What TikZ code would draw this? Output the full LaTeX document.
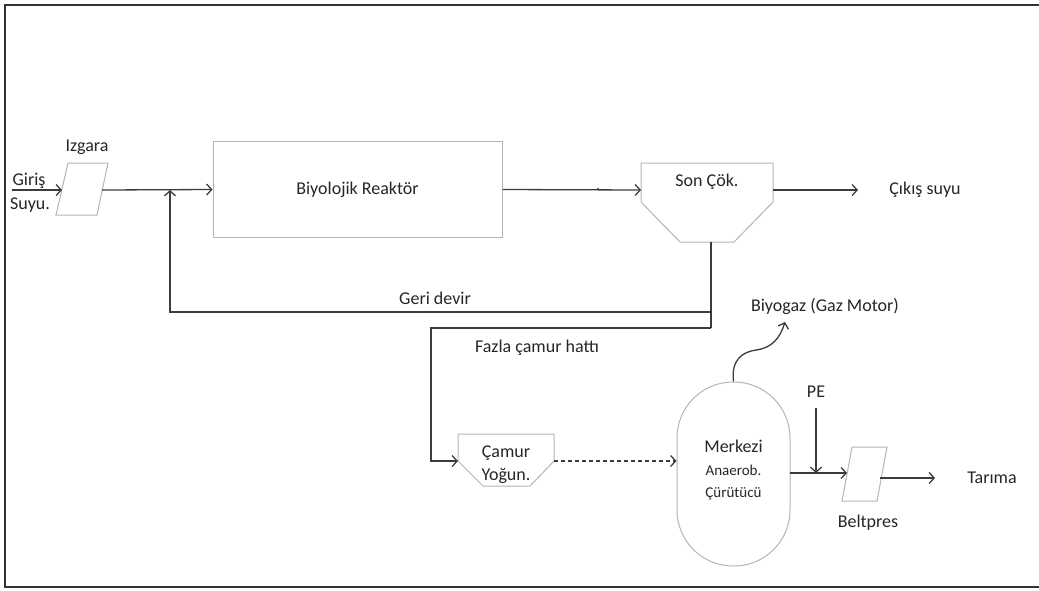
\documentclass[tikz,border=0pt]{standalone}
\usepackage{fontspec}
\setmainfont{Carlito}
\usetikzlibrary{arrows.meta}
\definecolor{flow}{HTML}{3C3C3C}
\definecolor{unit}{HTML}{B4B4B4}
\definecolor{ink}{HTML}{262626}
\begin{document}
\begin{tikzpicture}[x=1pt,y=-1pt,
  >={Straight Barb[length=5pt,width=11pt]},
  flowline/.style={draw=flow,line width=1.3pt},
  unitline/.style={draw=unit,line width=1pt},
  lbl/.style={font=\fontsize{18}{21}\selectfont,text=ink,inner sep=0pt},
  smalllbl/.style={font=\fontsize{15}{18}\selectfont,text=ink,inner sep=0pt}]
\useasboundingbox (0,0) rectangle (1039,590);
\draw[line width=1.8pt,black!80] (5,5) rectangle (1045,587);

% --- screen (Izgara)
\draw[unitline] (56,215) -- (68,163) -- (108,163) -- (97,215) -- cycle;
\coordinate (izIn) at (62,190);
\coordinate (izOut) at (102,190);
\node[lbl] (izLbl) at (87,147) {Izgara};
\node[lbl] (girLbl) at (29,181) {Giriş};
\node[lbl] (suyLbl) at (30,205) {Suyu.};
\coordinate (inStart) at (12,190);

% --- biological reactor
\node[draw=unit,line width=1pt,minimum width=289pt,minimum height=96pt,lbl,inner sep=0pt]
  (reactor) at (357.5,189.5) {Biyolojik Reaktör};

% --- final clarifier (Son Çök.)
\draw[unitline] (641,163) -- (773,163) -- (773,202) -- (734,242) -- (680,242) -- (641,202) -- cycle;
\coordinate (sonIn) at (641,190);
\coordinate (sonOut) at (773,190);
\coordinate (sonBot) at (711,242);
\node[lbl] (sonLbl) at (707,182) {Son Çök.};
\coordinate (outEnd) at (858,190);
\node[lbl] (cikLbl) at (925,190) {Çıkış suyu};

% --- sludge thickener
\draw[unitline] (458,434) -- (554,434) -- (554,461) -- (530,486) -- (483,486) -- (458,461) -- cycle;
\coordinate (camIn) at (458,461);
\coordinate (camOut) at (554,461);
\node[lbl] (camLbl1) at (506,453) {Çamur};
\node[lbl] (camLbl2) at (506,476) {Yoğun.};

% --- anaerobic digester
\node[draw=unit,line width=1pt,minimum width=113pt,minimum height=184pt,
  rounded corners=56pt] (dig) at (733.5,474) {};
\node[lbl] (digLbl1) at (733.5,446) {Merkezi};
\node[smalllbl] (digLbl2) at (733.5,470) {Anaerob.};
\node[smalllbl] (digLbl3) at (733.5,494) {Çürütücü};

% --- belt press
\draw[unitline] (842,501) -- (852,447) -- (887,447) -- (877,501) -- cycle;
\coordinate (beltIn) at (847,473);
\coordinate (beltOut) at (880,478);
\node[lbl] (beltLbl) at (868,523) {Beltpres};
\node[lbl] (tarLbl) at (992,478) {Tarıma};
\coordinate (tarEnd) at (935,478);

% --- polyelectrolyte dosing
\node[lbl] (peLbl) at (816,392) {PE};
\coordinate (peTop) at (816,408);
\coordinate (peJoin) at (816,473);
\coordinate (digOut) at (790,473);

% --- biogas
\node[lbl] (gasLbl) at (825,306) {Biyogaz (Gaz Motor)};
\coordinate (gasEnd) at (785,322);

% --- branching points
\coordinate (mix) at (170,190);
\coordinate (split1) at (711,312);
\coordinate (split2) at (711,328);
\coordinate (retCorner) at (170,312);
\coordinate (wasCorner) at (431,328);
\coordinate (wasDown) at (431,461);

% --- labels on lines
\node[lbl] (geriLbl) at (435,298) {Geri devir};
\node[lbl] (fazLbl) at (537,348) {Fazla çamur hattı};

% --- connectors
\draw[flowline,->] (inStart) -- (izIn);
\draw[flowline,->] (izOut) -- (reactor.west);
\draw[flowline,->] (reactor.east) -- (sonIn);
\fill[flow] (598,189) circle (1.2pt);
\draw[flowline,->] (sonOut) -- (outEnd);
\draw[flowline] (sonBot) -- (split2);
\draw[flowline,->] (split1) -- (retCorner) -- (mix);
\draw[flowline,->] (split2) -- (wasCorner) -- (wasDown) -- (camIn);
\draw[flowline,->,dash pattern=on 4pt off 3pt] (camOut) -- (camOut -| dig.west);
\draw[flowline,->] (digOut) -- (beltIn);
\draw[flowline,->] (peTop) -- (peJoin);
\draw[flowline,->] (beltOut) -- (tarEnd);
\draw[flowline,->] (dig.north) .. controls (731,360) and (742,352) .. (756,350)
  .. controls (772,348) and (780,338) .. (gasEnd);
\end{tikzpicture}
\end{document}
